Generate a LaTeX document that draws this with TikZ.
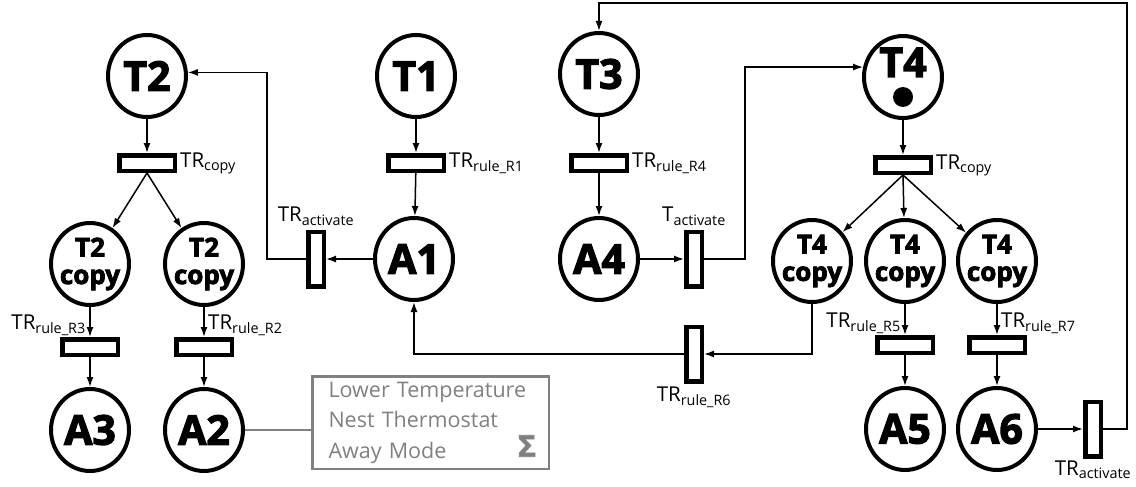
\documentclass[tikz,border=0pt]{standalone}
\usepackage{fontspec}
\setmainfont{Open Sans}
\newfontfamily\heavyfont[BoldFeatures={FakeBold=3}]{Open Sans}
\usepackage{tikz}
\usetikzlibrary{arrows.meta, positioning, shapes.geometric}
\definecolor{boxgray}{RGB}{128, 128, 128}

\newcommand{\copyof}[1]{\makebox[0pt]{#1}\\\makebox[0pt]{copy}}

\begin{document}
\begin{tikzpicture}[
        x=1pt, y=-1pt,
        place/.style={ellipse, draw, line width=4pt, minimum width=78pt, minimum height=82pt, inner sep=0pt, font=\heavyfont\bfseries\fontsize{41}{41}\selectfont},
        copyplace/.style={place, align=center, font=\heavyfont\bfseries\fontsize{26}{27.5}\selectfont},
        htrans/.style={rectangle, draw, line width=4.5pt, fill=white, minimum width=55.5pt, minimum height=15.5pt, inner sep=0pt},
        vtrans/.style={htrans, minimum width=15.5pt, minimum height=54.5pt},
        token/.style={circle, fill, inner sep=0pt, minimum size=20pt},
        trlabel/.style={inner sep=1pt, font=\fontsize{20.5}{24}\selectfont},
        infobox/.style={rectangle, draw=boxgray, line width=2.5pt, text=boxgray, minimum width=236.5pt, minimum height=92.5pt, text width=204pt, align=left, font=\fontsize{21.5}{30.5}\selectfont},
        arrow/.style={-{Latex[length=10pt, width=7pt]}, line width=1.5pt}
    ]
        \useasboundingbox (0,0) rectangle (1136,487);
        % places
        \node[place] (t2) at (147,76) {T2};
        \node[place] (t1) at (416,76) {T1};
        \node[place] (t3) at (599,74) {T3};
        \node[place] (t4) at (903,77) {\smash{T4}};
        \node[token] (tok) at ([yshift=-20pt]t4.center) {};
        \node[copyplace] (t2cl) at (90,264) {\copyof{T2}};
        \node[copyplace] (t2cr) at (204,264) {\copyof{T2}};
        \node[place] (a1) at (414,259) {A1};
        \node[place] (a4) at (599,259) {A4};
        \node[copyplace] (t4ca) at (812,261) {\copyof{T4}};
        \node[copyplace] (t4cb) at (905,261) {\copyof{T4}};
        \node[copyplace] (t4cc) at (997,261) {\copyof{T4}};
        \node[place] (a3) at (90,430) {A3};
        \node[place] (a2) at (204,430) {A2};
        \node[place] (a5) at (905,429) {A5};
        \node[place] (a6) at (997,429) {A6};
        % transitions
        \node[htrans] (cl) at (147,163) {};
        \node[htrans] (r1) at (416,163) {};
        \node[htrans] (r4) at (599,163) {};
        \node[htrans] (cr) at (903,165) {};
        \node[htrans] (r3) at (90,347) {};
        \node[htrans] (r2) at (204,347) {};
        \node[htrans] (r5) at (905,345) {};
        \node[htrans] (r7) at (997,345) {};
        \node[vtrans] (acl) at (316,259) {};
        \node[vtrans] (act) at (694,259) {};
        \node[vtrans] (r6) at (694,354) {};
        \node[vtrans] (acr) at (1093,429) {};
        % transition labels
        \node[trlabel, right=2pt of cl] (lcl) {TR\textsubscript{copy}};
        \node[trlabel, right=2pt of r1] (lr1) {TR\textsubscript{rule\_R1}};
        \node[trlabel, right=2pt of r4] (lr4) {TR\textsubscript{rule\_R4}};
        \node[trlabel, right=2pt of cr] (lcr) {TR\textsubscript{copy}};
        \node[trlabel, above=3pt of acl] (lacl) {TR\textsubscript{activate}};
        \node[trlabel, above=3pt of act] (lact) {T\textsubscript{activate}};
        \node[trlabel, below=2pt of r6] (lr6) {TR\textsubscript{rule\_R6}};
        \node[trlabel, below=1pt of acr] (lacr) {TR\textsubscript{activate}};
        \node[trlabel, anchor=south east] (lr3) at ([xshift=-3pt]r3.north) {TR\textsubscript{rule\_R3}};
        \node[trlabel, anchor=south west] (lr2) at ([xshift=3pt]r2.north) {TR\textsubscript{rule\_R2}};
        \node[trlabel, anchor=south east] (lr5) at ([xshift=-3pt]r5.north) {TR\textsubscript{rule\_R5}};
        \node[trlabel, anchor=south west] (lr7) at ([xshift=3pt]r7.north) {TR\textsubscript{rule\_R7}};
        % action box
        \node[infobox] (info) at (430.5,422.5) {Lower Temperature\\Nest Thermostat\\Away Mode};
        \node[inner sep=0pt, text=boxgray, font=\heavyfont\bfseries\fontsize{30}{30}\selectfont] (sigma) at (527,446) {Σ};
        \coordinate (top) at (1127,3);
        % arcs
        \draw[arrow] (t2) -- (cl);
        \draw[arrow] (cl.south) -- (t2cl);
        \draw[arrow] (cl.south) -- (t2cr);
        \draw[arrow] (t2cl) -- (r3);
        \draw[arrow] (r3) -- (a3);
        \draw[arrow] (t2cr) -- (r2);
        \draw[arrow] (r2) -- (a2);
        \draw[arrow] (t1) -- (r1);
        \draw[arrow] (r1) -- (a1);
        \draw[arrow] (a1) -- (acl);
        \draw[arrow] (acl.west) -- ++(-39,0) |- (t2.5);
        \draw[arrow] (t3) -- (r4);
        \draw[arrow] (r4) -- (a4);
        \draw[arrow] (a4) -- (act);
        \draw[arrow] (act.east) -- ++(41,0) |- (t4.166);
        \draw[arrow] (t4) -- (cr);
        \draw[arrow] (cr.south) -- (t4ca);
        \draw[arrow] (cr.south) -- (t4cb);
        \draw[arrow] (cr.south) -- (t4cc);
        \draw[arrow] (t4cb) -- (r5);
        \draw[arrow] (r5) -- (a5);
        \draw[arrow] (t4cc) -- (r7);
        \draw[arrow] (r7) -- (a6);
        \draw[arrow] (t4ca.south) |- (r6.east);
        \draw[arrow] (r6.west) -| (a1.south);
        \draw[arrow] (a6) -- (acr);
        \draw[arrow] (acr.east) -| (top) -| (t3.north);
        \draw[boxgray, line width=2.5pt] (a2.east) -- (info.west |- a2.east);
    \end{tikzpicture}
\end{document}
